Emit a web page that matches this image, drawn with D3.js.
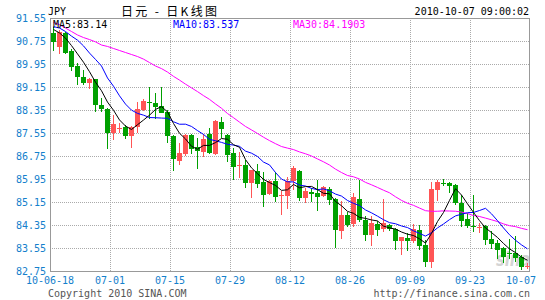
<!DOCTYPE html>
<html>
<head>
<meta charset="utf-8">
<script src="https://cdn.jsdelivr.net/npm/d3@7"></script>
<style>
  body { margin: 0; background: #fff; }
  svg { display: block; }
  .mono { font-family: "DejaVu Sans Mono", monospace; font-size: 10px; }
</style>
</head>
<body>
<svg id="chart" width="545" height="300"></svg>
<script>
// daily JPY candles, 10-06-18 .. 10-07
var opens = [91.02, 90.55, 91.04, 90.41, 89.89, 89.51, 89.28, 89.42, 88.52, 88.37,
  87.54, 87.70, 87.77, 87.46, 87.77, 88.35, 88.64, 88.58, 88.49, 88.29,
  87.45, 86.59, 86.82, 87.48, 87.05, 86.89, 87.52, 86.82, 87.93, 87.48,
  86.87, 86.40, 86.44, 85.82, 86.23, 85.84, 85.43, 85.88, 85.38, 85.37,
  85.88, 86.23, 85.30, 85.51, 85.46, 85.36, 85.59, 85.24, 84.15, 84.70,
  84.38, 85.24, 84.52, 84.00, 84.38, 84.20, 84.35, 84.20, 83.80, 83.90,
  83.80, 84.18, 83.65, 83.07, 85.57, 85.82, 85.80, 85.74, 85.10, 84.56,
  84.33, 84.26, 84.32, 83.86, 83.73, 83.54, 83.37, 83.39, 83.25, 82.91];
var highs = [91.22, 91.12, 91.08, 90.46, 89.97, 89.74, 89.45, 89.44, 88.76, 88.41,
  88.18, 87.89, 87.83, 87.79, 88.64, 88.72, 89.14, 88.93, 89.14, 88.35,
  87.48, 87.19, 87.52, 87.52, 87.37, 87.52, 87.71, 87.99, 88.12, 87.52,
  87.02, 86.88, 86.61, 86.28, 86.46, 86.18, 85.92, 86.18, 85.54, 86.03,
  86.40, 86.26, 85.63, 85.63, 85.92, 85.69, 85.66, 85.28, 85.19, 84.81,
  85.47, 85.92, 84.66, 84.66, 84.50, 85.25, 84.38, 84.24, 83.93, 84.08,
  84.38, 84.35, 83.83, 85.86, 85.92, 85.94, 85.83, 85.78, 85.39, 84.76,
  85.39, 84.41, 84.35, 84.15, 83.83, 83.57, 83.85, 83.97, 83.31, 83.02];
var lows = [90.41, 90.29, 90.30, 89.72, 89.21, 89.21, 89.07, 88.29, 88.29, 86.98,
  87.31, 87.54, 87.34, 87.02, 87.54, 88.33, 88.03, 88.03, 88.24, 87.21,
  86.24, 86.45, 86.75, 86.82, 86.31, 86.73, 86.82, 86.79, 87.37, 86.55,
  85.92, 85.97, 85.65, 85.28, 85.63, 84.99, 85.39, 85.14, 84.70, 84.91,
  85.57, 85.19, 85.10, 85.14, 84.84, 85.33, 85.05, 83.54, 83.85, 84.27,
  84.27, 84.47, 83.80, 83.62, 83.97, 84.12, 84.14, 83.48, 83.31, 83.46,
  83.71, 83.48, 82.90, 82.84, 85.20, 85.71, 85.47, 85.05, 84.29, 84.24,
  84.12, 84.08, 83.65, 83.51, 83.16, 83.02, 83.16, 83.07, 82.79, 82.81];
var closes = [90.73, 91.07, 90.34, 89.86, 89.51, 89.28, 89.42, 88.52, 88.37, 87.54,
  87.86, 87.73, 87.46, 87.77, 88.37, 88.67, 88.58, 88.46, 88.26, 87.45,
  86.66, 86.87, 87.48, 86.98, 86.93, 87.33, 86.87, 87.97, 87.69, 86.80,
  86.38, 86.43, 85.82, 86.26, 85.78, 85.39, 85.88, 85.32, 85.40, 85.88,
  86.32, 85.30, 85.53, 85.43, 85.33, 85.67, 85.22, 84.18, 84.70, 84.35,
  85.33, 84.52, 84.00, 84.43, 84.18, 84.43, 84.20, 83.80, 83.92, 83.80,
  84.20, 83.62, 83.07, 85.60, 85.86, 85.78, 85.72, 85.10, 84.50, 84.33,
  84.29, 84.29, 83.83, 83.69, 83.48, 83.25, 83.34, 83.19, 82.90, 82.94];

// MA values before enough history exists
var ma5Lead = [91.15, 91.03, 90.85, 90.59];
var ma10Lead = [91.25, 91.20, 91.08, 90.92, 90.78, 90.58, 90.33, 90.11, 89.88];
var ma30Lead = [91.39, 91.32, 91.20, 91.08, 90.96, 90.87, 90.80, 90.72, 90.61, 90.56,
  90.49, 90.42, 90.35, 90.28, 90.21, 90.12, 90.00, 89.88, 89.79, 89.67,
  89.52, 89.39, 89.25, 89.12, 88.99, 88.85, 88.72, 88.56, 88.41];

var priceTicks = [91.55, 90.75, 89.95, 89.15, 88.35, 87.55, 86.75, 85.95, 85.15, 84.35, 83.55, 82.75];
var dateLabels = ["10-06-18", "07-01", "07-15", "07-29", "08-12", "08-26", "09-09", "09-23", "10-07"];
var dateLabelAt = [0, 10, 20, 30, 40, 50, 60, 70, 80]; // candle boundaries

var maNames = ["MA5:83.14", "MA10:83.537", "MA30:84.1903"];

var pLeft = 50, pRight = 530, pTop = 18, pBottom = 271;
var svg = d3.select("#chart");

var x = d3.scaleBand().domain(d3.range(closes.length)).range([pLeft, pRight]);
var xb = d3.scaleLinear().domain([0, closes.length]).range([pLeft, pRight]);
var y = d3.scaleLinear().domain([82.75, 91.55]).range([pBottom, pTop]);

// watermark
svg.append("text")
    .attr("x", 496).attr("y", 266)
    .attr("textLength", 34).attr("lengthAdjust", "spacingAndGlyphs")
    .style("font-family", "DejaVu Sans").style("font-size", "19px")
    .style("font-weight", "bold").style("font-style", "italic")
    .attr("fill", "#d4d4d4")
    .text("sina");

// grid
svg.append("g").selectAll("line")
    .data(priceTicks.slice(1, -1))
  .enter().append("line")
    .attr("x1", pLeft).attr("x2", pRight)
    .attr("y1", function(d) { return Math.round(y(d)) + 0.5; })
    .attr("y2", function(d) { return Math.round(y(d)) + 0.5; })
    .attr("stroke", "#aaa").attr("stroke-dasharray", "1,1");

svg.append("g").selectAll("line")
    .data(dateLabelAt.slice(1, -1))
  .enter().append("line")
    .attr("x1", function(d) { return xb(d) + 0.5; })
    .attr("x2", function(d) { return xb(d) + 0.5; })
    .attr("y1", pTop).attr("y2", pBottom)
    .attr("stroke", "#aaa").attr("stroke-dasharray", "1,1");

svg.append("rect")
    .attr("x", pLeft + 0.5).attr("y", pTop + 0.5)
    .attr("width", pRight - pLeft - 1).attr("height", pBottom - pTop)
    .attr("fill", "none").attr("stroke", "#999");

// candles
var idx = d3.range(closes.length);
var bw = 5;
var candle = svg.append("g").selectAll("g")
    .data(idx)
  .enter().append("g")
    .attr("shape-rendering", "crispEdges");

function col(i) { return closes[i] >= opens[i] ? "#ff5555" : "#00a000"; }
function cx(i) { return Math.round(x(i) + x.bandwidth() / 2); }

candle.append("line")
    .attr("x1", function(i) { return cx(i) + 0.5; })
    .attr("x2", function(i) { return cx(i) + 0.5; })
    .attr("y1", function(i) { return y(highs[i]); })
    .attr("y2", function(i) { return y(lows[i]); })
    .attr("stroke", col);

candle.append("rect")
    .attr("x", function(i) { return cx(i) - 2; })
    .attr("width", bw)
    .attr("y", function(i) { return y(Math.max(opens[i], closes[i])); })
    .attr("height", function(i) { return Math.max(1, Math.abs(y(opens[i]) - y(closes[i]))); })
    .attr("fill", col);

// moving averages
function ma(n, lead) {
  return idx.map(function(i) {
    if (i < n - 1) return lead[i];
    return d3.mean(closes.slice(i - n + 1, i + 1));
  });
}
var line = d3.line()
    .x(function(d, i) { return cx(i) + 0.5; })
    .y(function(d) { return y(d); });

[[ma30Lead, 30, "#ff00ff"], [ma10Lead, 10, "#0000ff"], [ma5Lead, 5, "#000"]].forEach(function(m) {
  svg.append("path")
      .datum(ma(m[1], m[0]))
      .attr("d", line)
      .attr("fill", "none")
      .attr("stroke", m[2])
      .attr("stroke-width", 1);
});

// y labels
svg.append("g").selectAll("text")
    .data(priceTicks)
  .enter().append("text")
    .attr("class", "mono")
    .attr("x", 46)
    .attr("y", function(d) { return y(d); })
    .attr("dy", "0.35em")
    .attr("text-anchor", "end")
    .attr("fill", "#1480cc")
    .text(function(d) { return d.toFixed(2); });

// x labels
svg.append("g").selectAll("text")
    .data(dateLabels)
  .enter().append("text")
    .attr("class", "mono")
    .attr("x", function(d, i) { return i === dateLabels.length - 1 ? 536 : xb(dateLabelAt[i]); })
    .attr("y", 284)
    .attr("text-anchor", function(d, i) { return i === dateLabels.length - 1 ? "end" : "middle"; })
    .attr("fill", "#1480cc")
    .text(function(d) { return d; });

// header
svg.append("text").attr("class", "mono").attr("x", 48).attr("y", 15).attr("fill", "#000").text("JPY");
svg.append("text").attr("x", 121).attr("y", 15.5)
    .attr("textLength", 96).attr("lengthAdjust", "spacing")
    .style("font-family", "'Noto Sans CJK SC'").style("font-size", "12px")
    .style("white-space", "pre")
    .attr("fill", "#000").text("日元 - 日K线图");
svg.append("text").attr("class", "mono").attr("x", 529).attr("y", 15)
    .attr("text-anchor", "end").attr("fill", "#000").text("2010-10-07 09:00:02");

// legend
var legendX = [53, 173, 293], legendCol = ["#000", "#0000ff", "#ff00ff"];
maNames.forEach(function(t, i) {
  svg.append("text").attr("class", "mono")
      .attr("x", legendX[i]).attr("y", 28)
      .attr("fill", legendCol[i]).text(t);
});

// footer
svg.append("text").attr("class", "mono").attr("x", 48).attr("y", 297)
    .attr("fill", "#555").text("Copyright 2010 SINA.COM");
svg.append("text").attr("class", "mono").attr("x", 530).attr("y", 297)
    .attr("text-anchor", "end").attr("fill", "#555").text("http://finance.sina.com.cn");
</script>
</body>
</html>
